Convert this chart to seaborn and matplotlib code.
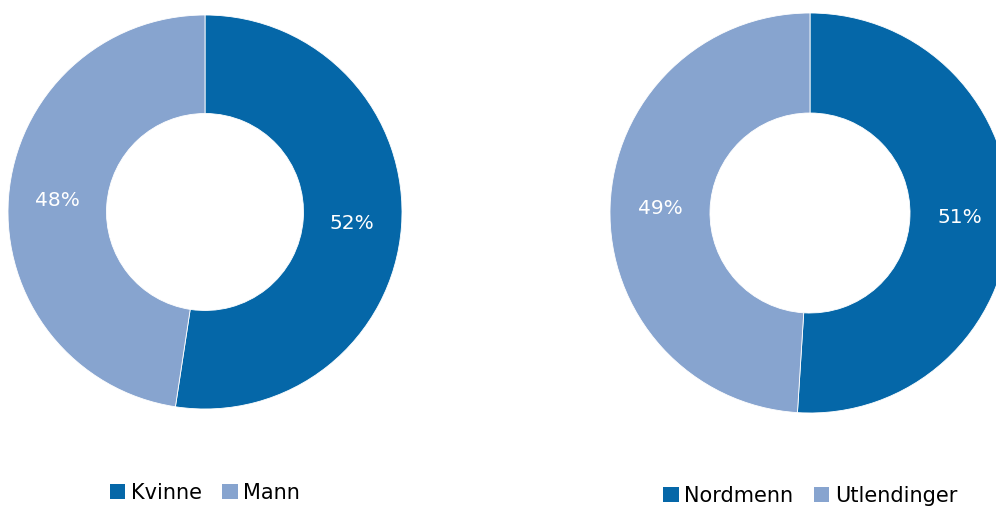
import matplotlib
matplotlib.use("Agg")
import matplotlib.pyplot as plt
import seaborn as sns
from matplotlib.patches import Patch

sns.set_style("white")
plt.rcParams['font.family'] = ['DejaVu Sans']

# data (shares in percent, shown rounded)
gender_labels = ["Kvinne", "Mann"]
gender_values = [52.4, 47.6]
origin_labels = ["Nordmenn", "Utlendinger"]
origin_values = [51, 49]

colors = ["#0567a8", "#87a4cf"]

W, H = 996, 507
fig = plt.figure(figsize=(W / 100, H / 100), dpi=100)


def donut(cx, cy, r, values, labels, legend_y):
    # axes placed in pixel coords so the ring lands where the reference has it
    ax = fig.add_axes([(cx - r) / W, (H - cy - r) / H, 2 * r / W, 2 * r / H])
    wedges, texts, autotexts = ax.pie(
        values, colors=colors, startangle=90, counterclock=False,
        radius=1.0, autopct=lambda p: f"{p:.0f}%", pctdistance=0.75,
        wedgeprops=dict(width=0.5, edgecolor="white", linewidth=0.6),
        textprops=dict(color="white", fontsize=14.5),
    )
    ax.set_xlim(-1, 1)
    ax.set_ylim(-1, 1)
    ax.set_aspect("equal")
    ax.axis("off")
    for w in wedges:
        w.set_clip_on(False)
    handles = [Patch(facecolor=c, edgecolor="none") for c in colors]
    leg = fig.legend(handles, labels, loc="center", bbox_to_anchor=(cx / W, 1 - legend_y / H),
                     ncol=2, frameon=False, fontsize=15, handlelength=0.75, handleheight=0.75,
                     handletextpad=0.25, columnspacing=1.0)
    for t in leg.get_texts():
        t.set_color("black")
    return ax


donut(205, 212, 197, gender_values, gender_labels, 493)
donut(810, 213, 200, origin_values, origin_labels, 496)

fig.savefig("out.png", dpi=100)
